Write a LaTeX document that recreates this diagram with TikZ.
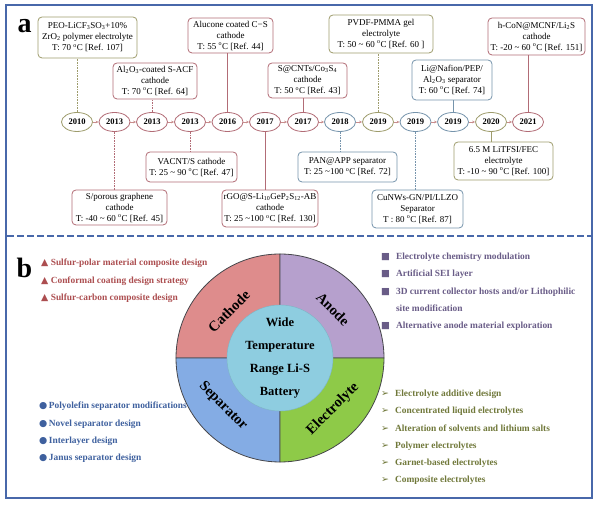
\documentclass[tikz,border=0pt]{standalone}
\usepackage{fontspec}
\setmainfont{Liberation Serif}
\newfontfamily\symfont{DejaVu Sans}
\usetikzlibrary{shapes.geometric, arrows.meta}

\definecolor{frameblue}{RGB}{72,104,170}
\definecolor{cathline}{RGB}{178,108,118}
\definecolor{eleline}{RGB}{158,156,108}
\definecolor{sepline}{RGB}{118,148,172}
\definecolor{linkpink}{RGB}{200,140,140}
\definecolor{cathfill}{RGB}{222,140,140}
\definecolor{anofill}{RGB}{182,160,205}
\definecolor{sepfill}{RGB}{132,172,228}
\definecolor{elefill}{RGB}{142,202,72}
\definecolor{corefill}{RGB}{142,205,224}
\definecolor{ringgray}{RGB}{70,70,75}
\definecolor{cathtext}{RGB}{172,78,80}
\definecolor{anotext}{RGB}{105,92,135}
\definecolor{septext}{RGB}{62,96,158}
\definecolor{eletext}{RGB}{112,120,58}

\tikzset{
  year/.style={ellipse, draw, fill=white, line width=0.8pt, minimum width=31pt, minimum height=19pt, inner sep=1pt, font=\fontsize{8.5}{10}\selectfont\bfseries},
  event/.style={draw, fill=white, rounded corners=4pt, line width=0.8pt, align=center, inner xsep=1.5pt, inner ysep=1.5pt, font=\fontsize{9}{11}\selectfont},
  yrlink/.style={draw=linkpink, line width=0.6pt, -{Stealth[length=3pt, width=2.6pt]}},
  stem/.style={line width=0.6pt},
  dots/.style={stem, densely dotted},
  quad/.style={draw=ringgray, line width=0.8pt},
  ringlabel/.style={font=\fontsize{14.5}{14.5}\selectfont\bfseries},
  itemlist/.style={anchor=north west, inner sep=0pt, align=left, font=\fontsize{9.4}{17.2}\selectfont\bfseries}
}

\begin{document}
\begin{tikzpicture}[x=1pt, y=1pt]
\useasboundingbox (0,0) rectangle (600,505);

	% frame of the two panels
	\draw[frameblue, line width=1.8pt] (6,7) rectangle (592,500);
	\draw[frameblue, line width=1.8pt, dash pattern=on 7pt off 3pt] (7,269) -- (591,269);

	\draw (24.5, 478.5) node (lbla) [font=\fontsize{28}{28}\selectfont\bfseries] {a};
	\draw (24.5, 237) node (lblb) [font=\fontsize{28}{28}\selectfont\bfseries] {b};

	% years
	\draw (77, 383) node (y2010) [year, draw=eleline] {2010};
	\draw (114.5, 383) node (y2013a) [year, draw=cathline] {2013};
	\draw (152, 383) node (y2013b) [year, draw=cathline] {2013};
	\draw (190, 383) node (y2013c) [year, draw=cathline] {2013};
	\draw (227.5, 383) node (y2016) [year, draw=cathline] {2016};
	\draw (265, 383) node (y2017a) [year, draw=cathline] {2017};
	\draw (303, 383) node (y2017b) [year, draw=cathline] {2017};
	\draw (340, 383) node (y2018) [year, draw=sepline] {2018};
	\draw (378, 383) node (y2019a) [year, draw=eleline] {2019};
	\draw (415.5, 383) node (y2019b) [year, draw=sepline] {2019};
	\draw (453, 383) node (y2019c) [year, draw=sepline] {2019};
	\draw (491, 383) node (y2020) [year, draw=eleline] {2020};
	\draw (528, 383) node (y2021) [year, draw=cathline] {2021};

	\foreach \a/\b in {y2010/y2013a, y2013a/y2013b, y2013b/y2013c, y2013c/y2016, y2016/y2017a, y2017a/y2017b, y2017b/y2018, y2018/y2019a, y2019a/y2019b, y2019b/y2019c, y2019c/y2020, y2020/y2021}
		\draw[yrlink] (\a) -- (\b);

	% reports above the line
	\draw (87.5, 467.5) node (peo) [event, draw=eleline, minimum width=99pt, minimum height=41pt] {PEO-LiCF\textsubscript{3}SO\textsubscript{3}+10\%\\ZrO\textsubscript{2} polymer electrolyte\\T: 70 \textsuperscript{o}C [Ref. 107]};
	\draw (155, 424) node (acf) [event, draw=cathline, minimum width=84pt, minimum height=36pt] {Al\textsubscript{2}O\textsubscript{3}-coated S-ACF\\cathode\\T: 70 \textsuperscript{o}C [Ref. 64]};
	\draw (230.5, 469.5) node (alucone) [event, draw=cathline, minimum width=85pt, minimum height=35pt] {Alucone coated C−S\\cathode\\T: 55 \textsuperscript{o}C [Ref. 44]};
	\draw (307.5, 424.5) node (cos) [event, draw=cathline, minimum width=79pt, minimum height=35pt] {S@CNTs/Co\textsubscript{3}S\textsubscript{4}\\cathode\\T: 50 \textsuperscript{o}C [Ref. 43]};
	\draw (381, 471) node (pvdf) [event, draw=eleline, minimum width=104pt, minimum height=38pt] {PVDF-PMMA gel\\electrolyte\\T: 50 \textasciitilde{} 60 \textsuperscript{o}C [Ref. 60 ]};
	\draw (452, 425) node (nafion) [event, draw=sepline, minimum width=80pt, minimum height=40pt] {Li@Nafion/PEP/\\Al\textsubscript{2}O\textsubscript{3} separator\\T: 60 \textsuperscript{o}C [Ref. 74]};
	\draw (536.5, 468.5) node (con) [event, draw=cathline, minimum width=97pt, minimum height=37pt] {h-CoN@MCNF/Li\textsubscript{2}S\\cathode\\T: -20 \textasciitilde{} 60 \textsuperscript{o}C [Ref. 151]};

	% reports below the line
	\draw (119.5, 297.5) node (graphene) [event, draw=cathline, minimum width=95pt, minimum height=35pt] {S/porous graphene\\cathode\\T: -40 \textasciitilde{} 60 \textsuperscript{o}C [Ref. 45]};
	\draw (191.5, 338) node (vacnt) [event, draw=cathline, minimum width=91pt, minimum height=30pt] {VACNT/S cathode\\T: 25 \textasciitilde{} 90 \textsuperscript{o}C [Ref. 47]};
	\draw (270, 296.5) node (lgps) [event, draw=cathline, minimum width=96pt, minimum height=37pt] {rGO@S-Li\textsubscript{10}GeP\textsubscript{2}S\textsubscript{12}-AB\\cathode\\T: 25 \textasciitilde100 \textsuperscript{o}C [Ref. 130]};
	\draw (347.5, 338) node (pan) [event, draw=sepline, minimum width=99pt, minimum height=30pt] {PAN@APP separator\\T: 25 \textasciitilde100 \textsuperscript{o}C [Ref. 72]};
	\draw (417.5, 296) node (llzo) [event, draw=sepline, minimum width=91pt, minimum height=38pt] {CuNWs-GN/PI/LLZO\\Separator\\T : 80 \textsuperscript{o}C [Ref. 87]};
	\draw (503.5, 344) node (litfsi) [event, draw=eleline, minimum width=99pt, minimum height=38pt] {6.5 M LiTFSI/FEC\\electrolyte\\T: -10 \textasciitilde{} 90 \textsuperscript{o}C [Ref. 100]};

	% stems from years to reports
	\draw[dots, eleline] (y2010.north) -- (y2010.north |- peo.south);
	\draw[dots, cathline] (y2013b.north) -- (y2013b.north |- acf.south);
	\draw[stem, cathline] (y2016.north) -- (y2016.north |- alucone.south);
	\draw[stem, cathline] (y2017b.north) -- (y2017b.north |- cos.south);
	\draw[dots, eleline] (y2019a.north) -- (y2019a.north |- pvdf.south);
	\draw[stem, sepline] (y2019c.north) -- (y2019c.north |- nafion.south);
	\draw[stem, cathline] (y2021.north) -- (y2021.north |- con.south);
	\draw[dots, cathline] (y2013a.south) -- (y2013a.south |- graphene.north);
	\draw[dots, cathline] (y2013c.south) -- (y2013c.south |- vacnt.north);
	\draw[stem, cathline] (y2017a.south) -- (y2017a.south |- lgps.north);
	\draw[dots, sepline] (y2018.south) -- (y2018.south |- pan.north);
	\draw[dots, sepline] (y2019b.south) -- (y2019b.south |- llzo.north);
	\draw[stem, eleline] (y2020.south) -- (y2020.south |- litfsi.north);

	% wheel
	\coordinate (cc) at (280,147);
	\filldraw[quad, fill=cathfill] (cc) -- ++(0,104) arc[start angle=90, end angle=180, radius=104pt] -- cycle;
	\filldraw[quad, fill=anofill] (cc) -- ++(104,0) arc[start angle=0, end angle=90, radius=104pt] -- cycle;
	\filldraw[quad, fill=sepfill] (cc) -- ++(-104,0) arc[start angle=180, end angle=270, radius=104pt] -- cycle;
	\filldraw[quad, fill=elefill] (cc) -- ++(0,-104) arc[start angle=270, end angle=360, radius=104pt] -- cycle;
	\node (core) at (cc) [circle, fill=corefill, draw=corefill!88!black, line width=0.4pt, minimum size=104pt, inner sep=0pt, align=center, font=\fontsize{12.5}{23}\selectfont\bfseries] {Wide\\Temperature\\Range Li-S\\Battery};

	\node (cath) at ([shift={(-51,47)}]cc) [ringlabel, rotate=45] {Cathode};
	\node (anode) at ([shift={(53,49)}]cc) [ringlabel, rotate=-45] {Anode};
	\node (sep) at ([shift={(-57,-48)}]cc) [ringlabel, rotate=-45] {Separator};
	\node (elec) at ([shift={(53,-51)}]cc) [ringlabel, rotate=45] {Electrolyte};

	% strategy lists
	\node (cathlist) at (41,246) [itemlist, text=cathtext] {{\symfont▲} Sulfur-polar material composite design\\{\symfont▲} Conformal coating design strategy\\{\symfont▲} Sulfur-carbon composite design};
	\node (anolist) at (381,252) [itemlist, text=anotext] {{\symfont■}\hspace{6pt}Electrolyte chemistry modulation\\{\symfont■}\hspace{6pt}Artificial SEI layer\\{\symfont■}\hspace{6pt}3D current collector hosts and/or Lithophilic\\\hphantom{{\symfont■}\hspace{6pt}}site modification\\{\symfont■}\hspace{6pt}Alternative anode material exploration};
	\node (seplist) at (39,103) [itemlist, text=septext] {{\symfont●}\hspace{1.5pt}Polyolefin separator modifications\\{\symfont●}\hspace{1.5pt}Novel separator design\\{\symfont●}\hspace{1.5pt}Interlayer design\\{\symfont●}\hspace{1.5pt}Janus separator design};
	\node (elelist) at (381,115) [itemlist, text=eletext] {{\symfont➢}\hspace{6pt}Electrolyte additive design\\{\symfont➢}\hspace{6pt}Concentrated liquid electrolytes\\{\symfont➢}\hspace{6pt}Alteration of solvents and lithium salts\\{\symfont➢}\hspace{6pt}Polymer electrolytes\\{\symfont➢}\hspace{6pt}Garnet-based electrolytes\\{\symfont➢}\hspace{6pt}Composite electrolytes};

\end{tikzpicture}
\end{document}
